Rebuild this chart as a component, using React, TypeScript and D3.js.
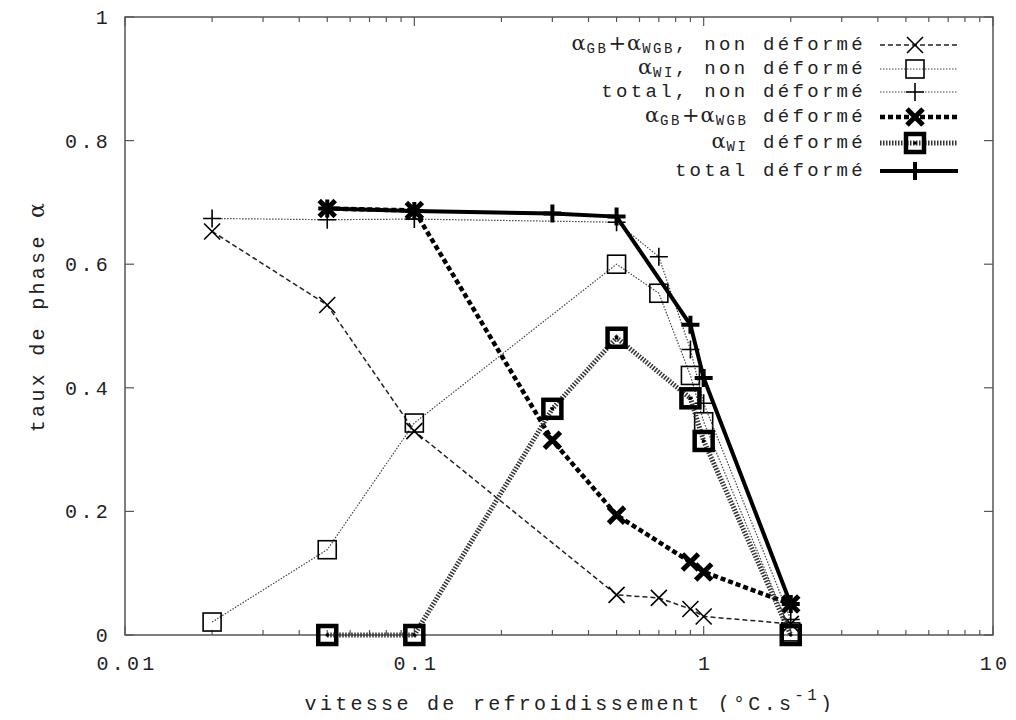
import * as d3 from 'd3';
import { useEffect, useRef } from 'react';

// cooling rates (°C/s) and phase fractions
const xNonDef = [0.02, 0.05, 0.1, 0.5, 0.7, 0.9, 1.0, 2.0];
const gbNonDef = [0.653, 0.534, 0.33, 0.065, 0.06, 0.042, 0.03, 0.018];
const wiNonDef = [0.021, 0.138, 0.343, 0.60, 0.553, 0.42, 0.345, 0.005];
const totalNonDef = [0.674, 0.672, 0.673, 0.668, 0.612, 0.462, 0.375, 0.025];

const xDef = [0.05, 0.1, 0.3, 0.5, 0.9, 1.0, 2.0];
const gbDef = [0.69, 0.687, 0.315, 0.194, 0.118, 0.102, 0.05];
const wiDef = [0.0, 0.0, 0.366, 0.481, 0.383, 0.314, 0.0];
const totalDef = [0.69, 0.686, 0.682, 0.677, 0.502, 0.416, 0.05];

const yTicks = [0, 0.2, 0.4, 0.6, 0.8, 1];
const yTickLabels = ['0', '0.2', '0.4', '0.6', '0.8', '1'];
const xTicks = [0.01, 0.1, 1, 10];
const xTickLabels = ['0.01', '0.1', '1', '10'];

// legend labels: [text, isSubscript]
const legendLabels: [string, boolean][][] = [
  [['α', false], ['GB', true], ['+α', false], ['WGB', true], [', non déformé', false]],
  [['α', false], ['WI', true], [', non déformé', false]],
  [['total, non déformé', false]],
  [['α', false], ['GB', true], ['+α', false], ['WGB', true], [' déformé', false]],
  [['α', false], ['WI', true], [' déformé', false]],
  [['total déformé', false]],
];

export default function App() {
  const ref = useRef<HTMLDivElement>(null);

  useEffect(() => {
    const width = 1016;
    const height = 720;
    const margin = { top: 17, right: 23, bottom: 85, left: 125 };
    const font = '"Liberation Mono", monospace';
    const fontSize = 20;
    const spacing = 3.3;

    const svg = d3.create('svg').attr('width', width).attr('height', height)
      .style('display', 'block').style('background', '#fff');

    const x = d3.scaleLog().domain([0.01, 10]).range([margin.left, width - margin.right]);
    const y = d3.scaleLinear().domain([0, 1]).range([height - margin.bottom, margin.top]);
    const [x0, x1] = x.range();
    const [y0, y1] = y.range();

    const axisColor = '#555';
    const ticks = svg.append('g').attr('stroke', axisColor).attr('stroke-width', 1.2);
    // y ticks on both sides
    yTicks.forEach(v => {
      ticks.append('line').attr('x1', x0).attr('x2', x0 + 9).attr('y1', y(v)).attr('y2', y(v));
      ticks.append('line').attr('x1', x1).attr('x2', x1 - 9).attr('y1', y(v)).attr('y2', y(v));
    });
    // x ticks (log, major + minor) top and bottom
    x.ticks(30).forEach(v => {
      const major = xTicks.some(t => Math.abs(t - v) / t < 1e-6);
      const len = major ? 9 : 5;
      ticks.append('line').attr('x1', x(v)).attr('x2', x(v)).attr('y1', y0).attr('y2', y0 - len);
      ticks.append('line').attr('x1', x(v)).attr('x2', x(v)).attr('y1', y1).attr('y2', y1 + len);
    });
    svg.append('rect').attr('x', x0).attr('y', y1).attr('width', x1 - x0).attr('height', y0 - y1)
      .attr('fill', 'none').attr('stroke', axisColor).attr('stroke-width', 1.5);

    const label = (sel: any) => sel.attr('font-family', font).attr('font-size', fontSize)
      .attr('letter-spacing', spacing).attr('fill', '#222');

    yTicks.forEach((v, i) => {
      svg.append('text').call(label).attr('text-anchor', 'end')
        .attr('x', x0 - 14).attr('y', y(v) + 7).text(yTickLabels[i]);
    });
    xTicks.forEach((v, i) => {
      svg.append('text').call(label).attr('text-anchor', 'middle')
        .attr('x', x(v) + 2).attr('y', y0 + 35).text(xTickLabels[i]);
    });

    // axis titles
    const xt = svg.append('text').call(label).attr('text-anchor', 'middle')
      .attr('x', 570).attr('y', 710);
    xt.append('tspan').text('vitesse de refroidissement (°C.s');
    xt.append('tspan').attr('dy', -10).attr('font-size', 16).text('-1');
    xt.append('tspan').attr('dy', 10).text(')');

    const yt = svg.append('text').call(label).attr('text-anchor', 'middle')
      .attr('transform', `translate(44,${(y0 + y1) / 2 - 10}) rotate(-90)`);
    yt.append('tspan').text('taux de phase ');
    yt.append('tspan').attr('font-family', '"DejaVu Serif", serif').attr('font-size', 22).text('α');

    // markers
    const drawX = (g: any, cx: number, cy: number, r: number, w: number) => {
      g.append('path').attr('d', `M${cx - r},${cy - r}L${cx + r},${cy + r}M${cx - r},${cy + r}L${cx + r},${cy - r}`)
        .attr('stroke', '#000').attr('stroke-width', w).attr('fill', 'none');
    };
    const drawPlus = (g: any, cx: number, cy: number, r: number, w: number) => {
      g.append('path').attr('d', `M${cx - r},${cy}L${cx + r},${cy}M${cx},${cy - r}L${cx},${cy + r}`)
        .attr('stroke', '#000').attr('stroke-width', w).attr('fill', 'none');
    };
    const drawSquare = (g: any, cx: number, cy: number, r: number, w: number) => {
      g.append('rect').attr('x', cx - r).attr('y', cy - r).attr('width', 2 * r).attr('height', 2 * r)
        .attr('stroke', '#000').attr('stroke-width', w).attr('fill', 'none');
      if (w > 2) g.append('circle').attr('cx', cx).attr('cy', cy).attr('r', 1.8).attr('fill', '#000');
    };

    const series = [
      { xs: xNonDef, ys: gbNonDef, dash: '5,3', width: 1.5, color: '#222', mark: (g: any, a: number, b: number) => drawX(g, a, b, 8, 1.6) },
      { xs: xNonDef, ys: wiNonDef, dash: '1.5,1.5', width: 1.2, color: '#444', mark: (g: any, a: number, b: number) => drawSquare(g, a, b, 9, 1.6) },
      { xs: xNonDef, ys: totalNonDef, dash: '1.5,1.5', width: 1.2, color: '#444', mark: (g: any, a: number, b: number) => drawPlus(g, a, b, 9, 1.6) },
      { xs: xDef, ys: gbDef, dash: '5,3', width: 4.5, color: '#000', mark: (g: any, a: number, b: number) => drawX(g, a, b, 8, 5) },
      { xs: xDef, ys: wiDef, dash: '1.5,1.5', width: 5, color: '#333', mark: (g: any, a: number, b: number) => drawSquare(g, a, b, 9, 4.5) },
      { xs: xDef, ys: totalDef, dash: null, width: 4, color: '#000', mark: (g: any, a: number, b: number) => drawPlus(g, a, b, 9, 4) },
    ];

    const line = d3.line<[number, number]>().x(d => x(d[0])).y(d => y(d[1]));
    const plot = svg.append('g');
    series.forEach(s => {
      const pts = s.xs.map((v, i) => [v, s.ys[i]] as [number, number]);
      plot.append('path').attr('d', line(pts)).attr('fill', 'none')
        .attr('stroke', s.color).attr('stroke-width', s.width)
        .attr('stroke-dasharray', s.dash);
      pts.forEach(p => s.mark(plot, x(p[0]), y(p[1])));
    });

    // legend
    const legendY = [45, 69, 92, 117, 143, 171];
    const legend = svg.append('g');
    series.forEach((s, i) => {
      const ly = legendY[i];
      const t = legend.append('text').call(label).attr('text-anchor', 'end')
        .attr('font-size', 19).attr('x', 866).attr('y', ly + 5);
      let shift = 0;
      legendLabels[i].forEach(([txt, sub]) => {
        const ts = t.append('tspan').text(txt);
        if (sub) { ts.attr('dy', 3 - shift).attr('font-size', 14).attr('letter-spacing', 2.5); shift = 3; }
        else if (shift) { ts.attr('dy', -shift); shift = 0; }
        if (txt.startsWith('α') || txt.startsWith('+α')) {
          ts.attr('font-family', '"DejaVu Serif", serif').attr('font-size', 21).attr('letter-spacing', 1);
        }
      });
      legend.append('line').attr('x1', 880).attr('x2', 958).attr('y1', ly).attr('y2', ly)
        .attr('stroke', s.color).attr('stroke-width', s.width).attr('stroke-dasharray', s.dash);
      s.mark(legend, 915, ly);
    });

    ref.current?.replaceChildren(svg.node() as any);
  }, []);

  return <div ref={ref} style={{ margin: -8 }}></div>;
}
